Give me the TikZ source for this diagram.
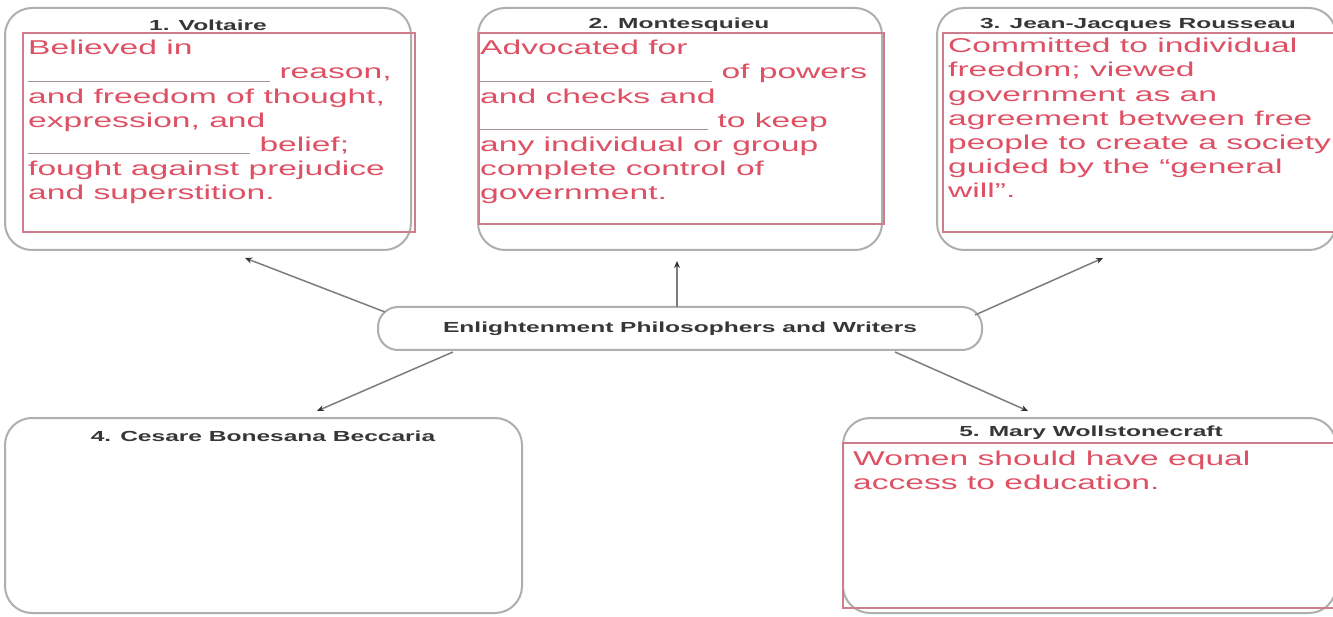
\documentclass[tikz,border=0pt]{standalone}
\usepackage{fontspec}
\setmainfont{Liberation Sans}[FakeStretch=1.68]
\usetikzlibrary{arrows.meta}

\definecolor{redtxt}{RGB}{222,80,100}
\definecolor{redbox}{RGB}{205,125,140}
\definecolor{outerc}{RGB}{175,175,175}
\definecolor{blankc}{RGB}{165,150,158}
\definecolor{ttlc}{RGB}{55,55,55}
\definecolor{arrc}{RGB}{125,125,125}
\newcommand\blankline[1]{\textcolor{blankc}{\rule[-3pt]{#1pt}{1.2pt}}}

\begin{document}
\begin{tikzpicture}[x=1pt,y=-1pt,
  outerbox/.style={draw=outerc, line width=2pt, rounded corners=27pt, inner sep=0pt},
  redframe/.style={draw=redbox, line width=2.5pt, inner sep=0pt},
  ttlstyle/.style={text=ttlc, font=\fontsize{14.6}{18}\selectfont\bfseries, inner sep=0pt},
  body/.style={text=redtxt, font=\fontsize{20}{24.2}\selectfont, align=left, anchor=north west, inner sep=0pt},
  conn/.style={draw=arrc, line width=1.5pt, -{Stealth[length=7pt,width=6pt,color=black!80]}}
]
\useasboundingbox (0,0) rectangle (1333,617);
\fill[white] (0,0) rectangle (1333,617);

% outer boxes
\node[outerbox, minimum width=406pt, minimum height=242pt] (b1) at (208,129) {};
\node[outerbox, minimum width=404pt, minimum height=242pt] (b2) at (680,129) {};
\node[outerbox, minimum width=399pt, minimum height=242pt] (b3) at (1136.5,129) {};
\node[outerbox, minimum width=517pt, minimum height=195pt] (b4) at (263.5,515.5) {};
\node[outerbox, minimum width=493pt, minimum height=195pt] (b5) at (1089.5,515.5) {};

% red frames
\node[redframe, minimum width=392pt, minimum height=199pt] (r1) at (219,132.5) {};
\node[redframe, minimum width=405pt, minimum height=191pt] (r2) at (681.5,128.5) {};
\node[redframe, minimum width=391pt, minimum height=199pt] (r3) at (1138.5,132.5) {};
\node[redframe, minimum width=491pt, minimum height=165pt] (r5) at (1088.5,525.5) {};

% titles
\node[ttlstyle] (t1) at (208,25) {1. Voltaire};
\node[ttlstyle] (t2) at (679,25) {2. Montesquieu};
\node[ttlstyle] (t3) at (1138,25) {3. Jean-Jacques Rousseau};
\node[ttlstyle] (t4) at (263,436) {4. Cesare Bonesana Beccaria};
\node[ttlstyle] (t5) at (1091,433) {5. Mary Wollstonecraft};

% body texts
\node[body] (x1) at (28,40) {Believed in\\
\blankline{242} reason,\\
and freedom of thought,\\
expression, and\\
\blankline{222} belief;\\
fought against prejudice\\
and superstition.};
\node[body] (x2) at (480,40) {Advocated for\\
\blankline{232} of powers\\
and checks and\\
\blankline{228} to keep\\
any individual or group\\
complete control of\\
government.};
\node[body] (x3) at (948,38) {Committed to individual\\
freedom; viewed\\
government as an\\
agreement between free\\
people to create a society\\
guided by the “general\\
will”.};
\node[body] (x5) at (853,451) {Women should have equal\\
access to education.};

% center
\node[draw=outerc, line width=2pt, rounded corners=20pt, minimum width=604pt, minimum height=43pt, ttlstyle] (c) at (680,328.5) {Enlightenment Philosophers and Writers};

% connector end points
\coordinate (s1) at (385,312);
\coordinate (e1) at (245,258);
\coordinate (s2) at (677,307);
\coordinate (e2) at (677,261);
\coordinate (s3) at (975,315);
\coordinate (e3) at (1103,258);
\coordinate (s4) at (453,352);
\coordinate (e4) at (317,411);
\coordinate (s5) at (895,352);
\coordinate (e5) at (1028,411);

\draw[conn] (s1) -- (e1);
\draw[conn] (s2) -- (e2);
\draw[conn] (s3) -- (e3);
\draw[conn] (s4) -- (e4);
\draw[conn] (s5) -- (e5);
\end{tikzpicture}
\end{document}
